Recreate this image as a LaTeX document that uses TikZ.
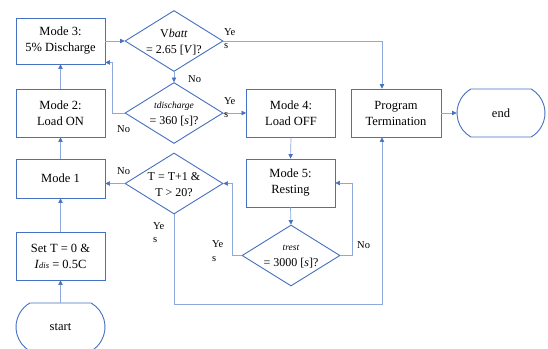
\documentclass[tikz,border=0pt]{standalone}
\usepackage{fontspec}
\setmainfont{Liberation Serif}
\usetikzlibrary{shapes.geometric,shapes.misc,arrows.meta}
\definecolor{boxblue}{RGB}{70,112,192}
\definecolor{lineblue}{RGB}{140,168,220}
\tikzset{
  box/.style={rectangle,draw=boxblue,line width=0.9pt,minimum width=89pt,minimum height=47pt,inner sep=0pt,align=center,font=\fontsize{12.5}{16}\selectfont},
  dia/.style={diamond,draw=boxblue,line width=0.9pt,minimum width=98pt,minimum height=61pt,inner sep=0pt},
  diatext/.style={align=center,inner sep=0pt,font=\fontsize{12}{16}\selectfont},
  term/.style={rounded rectangle,rounded rectangle arc length=120,draw=boxblue,line width=0.9pt,minimum width=89pt,minimum height=48pt,inner sep=0pt,font=\fontsize{12.5}{16}\selectfont},
  conn/.style={draw=lineblue,line width=0.7pt,-{Triangle[length=4.5pt,width=4.5pt,color=boxblue]}},
  lbl/.style={anchor=base west,inner sep=0pt,font=\fontsize{10.5}{13}\selectfont},
}
\begin{document}
\begin{tikzpicture}[x=1pt,y=-1pt]
\useasboundingbox[fill=white] (0,0) rectangle (548,348);
% boxes
\node[box,minimum height=46pt] (m3) at (60.5,41) {Mode 3:\\5\% Discharge};
\node[box,minimum height=48pt] (m2) at (60.5,113) {Mode 2:\\Load ON};
\node[box,minimum height=39pt] (m1) at (60.5,178.5) {Mode 1};
\node[box,minimum height=48pt] (setT) at (60.5,256) {Set T = 0 \&\\\textit{I}{\fontsize{8.5}{10}\selectfont\textit{dis}} = 0.5C};
\node[term] (start) at (60.5,327) {start};
\node[box,minimum height=48pt] (m4) at (291,113) {Mode 4:\\Load OFF};
\node[box,minimum height=48pt] (m5) at (290.5,183) {Mode 5:\\Resting};
\node[box,minimum width=90pt,minimum height=48pt] (pt) at (396,113) {Program\\Termination};
\node[term,minimum width=88pt] (end) at (501,113) {end};
% diamonds
\node[dia] (d1) at (174,41) {};
\node[diatext] (t1) at (174,42) {V\textit{batt}\\= 2.65 [\textit{V}]?};
\node[dia] (d2) at (174,113) {};
\node[diatext] (t2) at (174,114) {{\fontsize{9.5}{12}\selectfont\textit{tdischarge}}\\= 360 [\textit{s}]?};
\node[dia] (d3) at (174,183.5) {};
\node[diatext] (t3) at (174,184.5) {T = T+1 \&\\T {>} 20?};
\node[dia] (d4) at (291,255.5) {};
\node[diatext] (t4) at (291,257) {{\fontsize{9.5}{12}\selectfont\textit{trest}}\\= 3000 [\textit{s}]?};
\coordinate (ptT) at ([xshift=-14pt]pt.north);
\coordinate (ptB) at ([xshift=-14pt]pt.south);
% connectors
\draw[conn] (start.north) -- (setT.south);
\draw[conn] (setT.north) -- (m1.south);
\draw[conn] (m1.north) -- (m2.south);
\draw[conn] (m2.north) -- (m3.south);
\draw[conn] (m3.east) -- (d1.west);
\draw[conn] (d1.east) -| (ptT);
\draw[conn] (d1.south) -- (d2.north);
\draw[conn] (d2.west) -- ++(-12,0) |- ([yshift=2pt]m3.south east);
\draw[conn] (d2.east) -- (m4.west);
\draw[conn] (m4.south) -- (m5.north);
\draw[conn] (m5.south) -- (d4.north);
\draw[conn] (d4.east) -- ++(12,0) |- (m5.east);
\draw[conn] (d4.west) -- ++(-9,0) |- (d3.east);
\draw[conn] (d3.west) -- (d3.west -| m1.east);
\draw[conn] (d3.south) -- ++(0,89.5) -| (ptB);
\draw[conn] (pt.east) -- (end.west);
% labels
\node[lbl] (y1a) at (224,35) {Ye};
\node[lbl] (y1b) at (224,48) {s};
\node[lbl] (n1) at (188,82) {No};
\node[lbl] (y2a) at (224,104) {Ye};
\node[lbl] (y2b) at (224,117) {s};
\node[lbl] (n2) at (117,132) {No};
\node[lbl] (n3) at (117,174) {No};
\node[lbl] (y3a) at (153,229) {Ye};
\node[lbl] (y3b) at (153,242) {s};
\node[lbl] (y4a) at (212,247) {Ye};
\node[lbl] (y4b) at (212,261) {s};
\node[lbl] (n4) at (357,248) {No};
\end{tikzpicture}
\end{document}
